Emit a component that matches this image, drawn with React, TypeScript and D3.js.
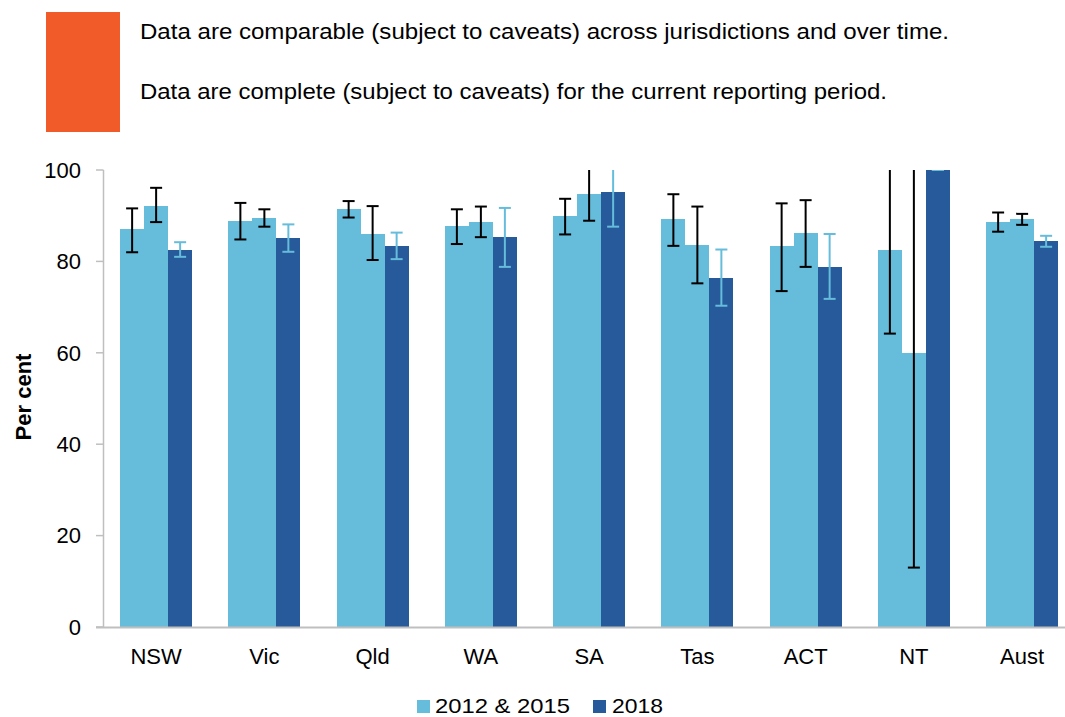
import React from 'react';
import * as d3 from 'd3';

const categories = ['NSW', 'Vic', 'Qld', 'WA', 'SA', 'Tas', 'ACT', 'NT', 'Aust'];
const years = ['2012', '2015', '2018'];

// values and 95% confidence limits
const v2012 = [87.0, 88.9, 91.5, 87.7, 90.0, 89.2, 83.3, 82.6, 88.7];
const lo2012 = [82.0, 84.8, 89.6, 83.8, 85.9, 83.4, 73.5, 64.2, 86.5];
const hi2012 = [91.6, 92.8, 93.2, 91.4, 93.7, 94.7, 92.7, 101.0, 90.7];
const v2015 = [92.2, 89.4, 86.1, 88.7, 94.7, 83.6, 86.2, 60.0, 89.2];
const lo2015 = [88.6, 87.6, 80.3, 85.3, 88.9, 75.2, 78.8, 13.0, 88.0];
const hi2015 = [96.1, 91.4, 92.1, 92.0, 100.5, 92.0, 93.4, 107.0, 90.4];
const v2018 = [82.6, 85.1, 83.3, 85.3, 95.1, 76.4, 78.8, 100.0, 84.4];
const lo2018 = [81.0, 82.1, 80.5, 78.8, 87.6, 70.3, 71.8, 100.0, 83.2];
const hi2018 = [84.2, 88.1, 86.3, 91.7, 102.0, 82.6, 86.0, 100.0, 85.6];

const yTicks = [0, 20, 40, 60, 80, 100];
const legendLabels = ['2012 & 2015', '2018'];

const LIGHT = '#66BCDB';
const DARK = '#265A9A';
const ORANGE = '#F15A29';
const AXIS = '#BFBFBF';
const FONT = 'Arial, "Liberation Sans", sans-serif';

const series = [
  { year: '2012', v: v2012, lo: lo2012, hi: hi2012, fill: LIGHT, err: '#000' },
  { year: '2015', v: v2015, lo: lo2015, hi: hi2015, fill: LIGHT, err: '#000' },
  { year: '2018', v: v2018, lo: lo2018, hi: hi2018, fill: DARK, err: LIGHT },
];

export default function App() {
  const width = 1065;
  const height = 717;

  const x = d3.scaleBand().domain(categories).range([102, 1076.25]).padding(0);
  const bw = x.bandwidth();
  const x1 = d3.scaleBand().domain(years).range([bw / 2 - 36, bw / 2 + 36]).padding(0);
  const y = d3.scaleLinear().domain([0, 100]).range([627, 170]);
  const cap = 6;

  return (
    <svg width={width} height={height} style={{ position: 'absolute', left: 0, top: 0 }} fontFamily={FONT}>
      <defs>
        <clipPath id="plot">
          <rect x={0} y={y(100)} width={width} height={y(0) - y(100) + 2} />
        </clipPath>
      </defs>

      {/* header */}
      <rect x={46} y={12} width={74} height={120} fill={ORANGE} />
      <text x={140} y={39} fontSize={22} fill="#000" textLength={809} lengthAdjust="spacingAndGlyphs">
        Data are comparable (subject to caveats) across jurisdictions and over time.
      </text>
      <text x={140} y={99} fontSize={22} fill="#000" textLength={747} lengthAdjust="spacingAndGlyphs">
        Data are complete (subject to caveats) for the current reporting period.
      </text>

      {/* bars */}
      <g clipPath="url(#plot)">
        {series.map((s) =>
          categories.map((c, i) => (
            <rect
              key={s.year + c}
              x={(x(c) ?? 0) + (x1(s.year) ?? 0)}
              y={y(s.v[i])}
              width={x1.bandwidth()}
              height={y(0) - y(s.v[i])}
              fill={s.fill}
              shapeRendering="crispEdges"
            />
          ))
        )}
        {/* error bars */}
        {series.map((s) =>
          categories.map((c, i) => {
            const cx = (x(c) ?? 0) + (x1(s.year) ?? 0) + x1.bandwidth() / 2;
            return (
              <g key={'e' + s.year + c} stroke={s.err} strokeWidth={2}>
                <line x1={cx} x2={cx} y1={y(s.lo[i])} y2={y(s.hi[i])} />
                <line x1={cx - cap} x2={cx + cap} y1={y(s.lo[i])} y2={y(s.lo[i])} />
                <line x1={cx - cap} x2={cx + cap} y1={y(s.hi[i])} y2={y(s.hi[i])} />
              </g>
            );
          })
        )}
      </g>

      {/* y axis */}
      <line x1={103.5} x2={103.5} y1={y(100)} y2={y(0)} stroke={AXIS} strokeWidth={1.5} />
      {yTicks.map((t) => (
        <g key={t}>
          <line x1={96} x2={103.5} y1={y(t)} y2={y(t)} stroke={AXIS} strokeWidth={1.5} />
          <text x={81} y={y(t)} dy="0.35em" textAnchor="end" fontSize={22} fill="#000">
            {t}
          </text>
        </g>
      ))}
      <text
        transform="translate(31, 397) rotate(-90)"
        textAnchor="middle"
        fontSize={22}
        fontWeight="bold"
        fill="#000"
      >
        Per cent
      </text>

      {/* x axis */}
      <line x1={96} x2={width} y1={y(0) + 0.5} y2={y(0) + 0.5} stroke={AXIS} strokeWidth={2} />
      {categories.map((c) => (
        <text key={c} x={(x(c) ?? 0) + bw / 2} y={664} textAnchor="middle" fontSize={22} fill="#000">
          {c}
        </text>
      ))}

      {/* legend */}
      <rect x={417} y={700} width={13} height={13} fill={LIGHT} />
      <text x={435} y={713} fontSize={21} fill="#000" textLength={135} lengthAdjust="spacingAndGlyphs">
        {legendLabels[0]}
      </text>
      <rect x={593} y={700} width={13} height={13} fill={DARK} />
      <text x={612} y={713} fontSize={21} fill="#000" textLength={51} lengthAdjust="spacingAndGlyphs">
        {legendLabels[1]}
      </text>
    </svg>
  );
}
